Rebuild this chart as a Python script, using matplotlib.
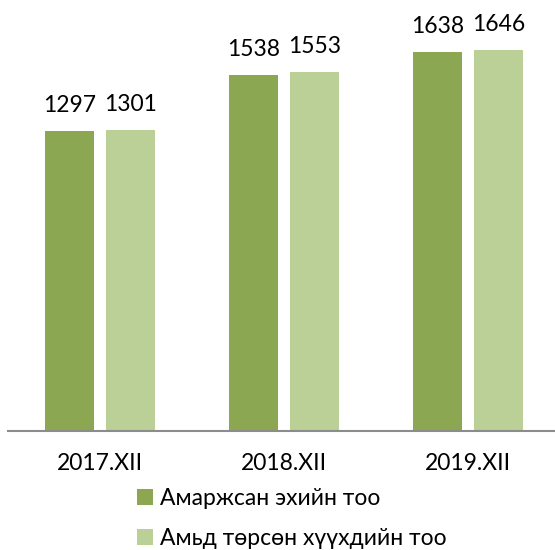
import matplotlib
matplotlib.use('Agg')
import matplotlib.pyplot as plt
import numpy as np

plt.rcParams['font.family'] = ['Lato', 'DejaVu Sans']

categories = ['2017.XII', '2018.XII', '2019.XII']
mothers = [1297, 1538, 1638]     # Амаржсан эхийн тоо
births = [1301, 1553, 1646]      # Амьд төрсөн хүүхдийн тоо
series_names = ['Амаржсан эхийн тоо', 'Амьд төрсөн хүүхдийн тоо']
colors = ['#8BA751', '#BBD097']

fig = plt.figure(figsize=(5.55, 5.5), dpi=100)
W, H = 555, 550
# axes in pixel coords: left 8, right 560, baseline y=431, top y=15
ax = fig.add_axes([8 / W, (H - 431) / H, 552 / W, (431 - 15) / H])

x = np.arange(len(categories))
bw = 0.266
off = 0.166
b1 = ax.bar(x - off, mothers, bw, color=colors[0], label=series_names[0])
b2 = ax.bar(x + off, births, bw, color=colors[1], label=series_names[1])

for bars in (b1, b2):
    for r in bars:
        ax.annotate(str(int(r.get_height())), (r.get_x() + r.get_width() / 2, r.get_height()),
                    xytext=(0, 11), textcoords='offset points', ha='center', va='bottom',
                    fontsize=16.5, color='black')

ax.set_xlim(-0.5, 2.5)
ax.set_ylim(0, 416 / 0.2313)
ax.set_xticks(x)
ax.set_xticklabels(categories, fontsize=16.5)
ax.tick_params(axis='x', length=0, pad=16)
ax.set_yticks([])
for s in ['top', 'right', 'left']:
    ax.spines[s].set_visible(False)
ax.spines['bottom'].set_color('#8C8C8C')
ax.spines['bottom'].set_linewidth(1.5)

fig.legend(handles=[b1, b2], labels=series_names, loc='upper left',
           bbox_to_anchor=(116 / W, 1 - 467 / H), frameon=False, fontsize=16.5,
           handlelength=0.7, handleheight=0.7, handletextpad=0.3, labelspacing=0.86)

fig.savefig('out.png', dpi=100)
